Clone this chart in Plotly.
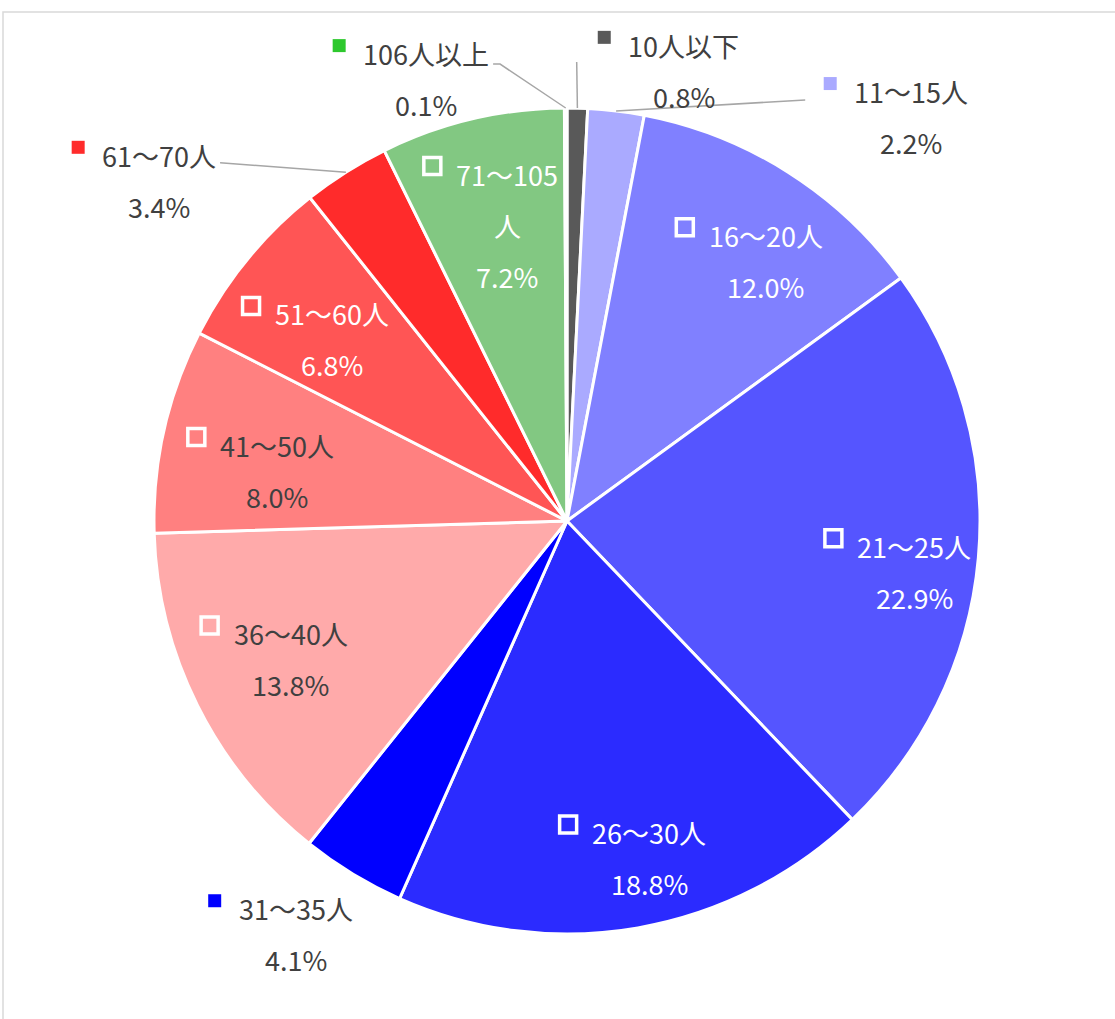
import math
import plotly.graph_objects as go

# 規模別の構成比 (%)
labels = ["10人以下", "11〜15人", "16〜20人", "21〜25人", "26〜30人", "31〜35人",
          "36〜40人", "41〜50人", "51〜60人", "61〜70人", "71〜105人", "106人以上"]
shares = [0.8, 2.2, 12.0, 22.9, 18.8, 4.1, 13.8, 8.0, 6.8, 3.4, 7.2, 0.1]

colors = ["#595959", "#AAAAFF", "#8080FF", "#5555FF", "#2B2BFF", "#0000FF",
          "#FFAAAA", "#FF8080", "#FF5555", "#FF2B2B", "#82C882", "#2DC82D"]

# label placement (style): radius as fraction of pie radius, angle offset from slice middle
label_r = [1.126, 1.285, 0.793, 0.850, 0.840, 1.197, 0.748, 0.712, 0.719, 1.286, 0.731, 1.123]
label_dt = [13.1, 33.6, 5.0, 3.2, -3.8, 2.0, 0.0, -2.8, -1.6, -17.8, 1.9, -17.5]
dark_inside = {6, 7}
wrap_at = {10: 6}
# leader lines: (position within slice, points relative to label centre)
leaders = {0: (0.5, [(-107, -9)]), 1: (0.5, [(-106, -17)]),
           9: (0.5, [(61, -18)]), 11: (0.5, [(74, -15), (67, -15)])}

W, H = 1115, 1019
CX, CY, R = 567, 521, 413
FONT = "Noto Sans CJK JP"
FS = 27
LS = 51
DARK = "#404040"


def polar(r, theta):
    t = math.radians(theta)
    return CX + r * math.sin(t), CY - r * math.cos(t)


def text_width(s):
    w = 0
    for ch in s:
        if ch.isdigit():
            w += 0.555
        elif ch == ".":
            w += 0.27
        elif ch == "%":
            w += 0.87
        else:
            w += 1.0
    return w * FS


fig = go.Figure()

fig.add_trace(go.Pie(
    labels=labels,
    values=shares,
    sort=False,
    direction="clockwise",
    rotation=0,
    marker=dict(colors=colors, line=dict(color="white", width=3)),
    textinfo="none",
    hoverinfo="skip",
    showlegend=False,
    domain=dict(x=[(CX - R) / W, (CX + R) / W], y=[(H - CY - R) / H, (H - CY + R) / H]),
))

# empty trace so the pixel axes exist
fig.add_trace(go.Scatter(x=[], y=[], showlegend=False, hoverinfo="skip"))

total = sum(shares)
annotations = []
shapes = [dict(type="rect", xref="x", yref="y", x0=3, y0=12, x1=W + 20, y1=H + 20,
               line=dict(color="#D9D9D9", width=1.5), layer="below")]

cum = 0
for i, (lab, v) in enumerate(zip(labels, shares)):
    a0 = cum / total * 360
    a1 = (cum + v) / total * 360
    cum += v
    mid = (a0 + a1) / 2
    outside = label_r[i] > 1
    cx, cy = polar(label_r[i] * R, mid + label_dt[i])

    if i in wrap_at:
        lines = [lab[:wrap_at[i]], lab[wrap_at[i]:]]
    else:
        lines = [lab]
    lines = lines + [f"{v:.1f}%"]
    n = len(lines)
    tcol = DARK if (outside or i in dark_inside) else "white"
    for k, s in enumerate(lines):
        annotations.append(dict(
            x=cx, y=cy + (k - (n - 1) / 2) * LS, xref="x", yref="y",
            text=s, showarrow=False, xanchor="center", yanchor="middle",
            font=dict(family=FONT, size=FS, color=tcol)))

    # legend key next to the first line
    first_y = cy - (n - 1) / 2 * LS
    mx = cx - text_width(lines[0]) / 2 - 24
    my = first_y - 8
    if outside:
        h = 6.5
        shapes.append(dict(type="rect", xref="x", yref="y", x0=mx - h, x1=mx + h,
                           y0=my - h, y1=my + h, fillcolor=colors[i],
                           line=dict(width=0), layer="above"))
    else:
        h = 8.5
        shapes.append(dict(type="rect", xref="x", yref="y", x0=mx - h, x1=mx + h,
                           y0=my - h, y1=my + h, fillcolor="rgba(0,0,0,0)",
                           line=dict(color="white", width=3.5), layer="above"))

    if i in leaders:
        frac, pts = leaders[i]
        sx, sy = polar(R, a0 + (a1 - a0) * frac)
        path = f"M {sx:.1f} {sy:.1f}"
        for dx, dy in pts:
            path += f" L {cx + dx:.1f} {cy + dy:.1f}"
        shapes.append(dict(type="path", xref="x", yref="y", path=path,
                           line=dict(color="#A6A6A6", width=1.5), layer="above"))

fig.update_layout(
    width=W,
    height=H,
    margin=dict(l=0, r=0, t=0, b=0),
    paper_bgcolor="white",
    plot_bgcolor="rgba(0,0,0,0)",
    xaxis=dict(range=[0, W], visible=False, fixedrange=True),
    yaxis=dict(range=[H, 0], visible=False, fixedrange=True),
    annotations=annotations,
    shapes=shapes,
    showlegend=False,
)

fig.write_html("out.html", config={"displayModeBar": False},
               post_script="document.body.style.margin='0';")
